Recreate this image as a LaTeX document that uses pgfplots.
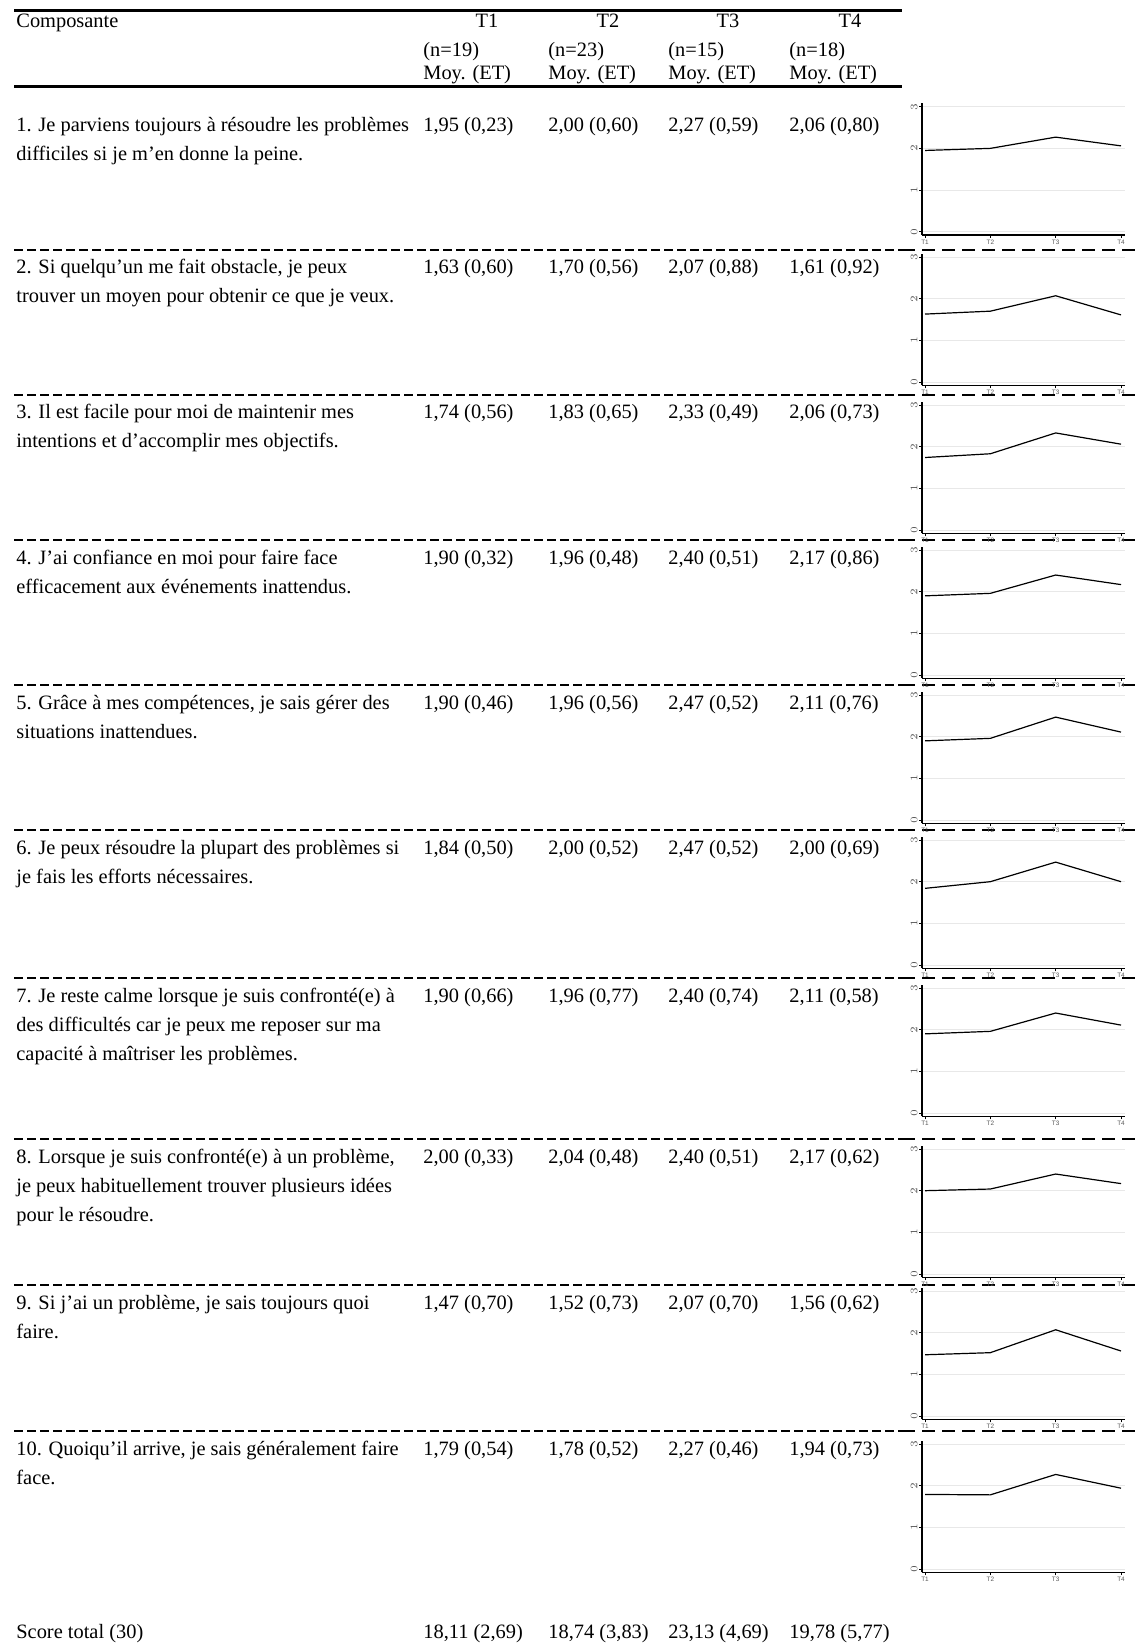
\documentclass[border=0pt]{standalone}
\usepackage{fontspec}
\setmainfont{Liberation Serif}
\newfontfamily\tickfont{Liberation Sans}
\usepackage{pgfplots}
\pgfplotsset{compat=1.18}
\usepackage{pgfplotstable}

% means per time point (T1..T4), one column per item
\pgfplotstableread{
t r1 r2 r3 r4 r5 r6 r7 r8 r9 r10
1 1.95 1.63 1.74 1.90 1.90 1.84 1.90 2.00 1.47 1.79
2 2.00 1.70 1.83 1.96 1.96 2.00 1.96 2.04 1.52 1.78
3 2.27 2.07 2.33 2.40 2.47 2.47 2.40 2.40 2.07 2.27
4 2.06 1.61 2.06 2.17 2.11 2.00 2.11 2.17 1.56 1.94
}\means

\pgfplotsset{
  spark/.style={
    scale only axis, width=101.5pt, height=65.8pt,
    anchor=south west,
    xmin=0.954, xmax=4.061, ymin=-0.08, ymax=3.08,
    axis x line*=bottom, axis y line*=left,
    axis line style={line width=0.65pt, -},
    xtick={1,2,3,4}, xticklabels={T1,T2,T3,T4},
    ytick={0,1,2,3},
    ymajorgrids, major grid style={gray!18, line width=0.4pt},
    major tick length=1.5pt, tick align=outside,
    tick style={line width=0.4pt, black},
    tick label style={font=\tickfont\fontsize{3.2}{3.4}\selectfont, text=black!65, inner sep=0.6pt},
    yticklabel style={rotate=90, anchor=south},
    xticklabel style={anchor=north},
  }
}

\newcommand\cell[3]{\node[anchor=base west, inner sep=0pt] at (#1,#2) {#3};}
\newcommand\nums[5]{\cell{423}{#1}{#2}\cell{548}{#1}{#3}\cell{668}{#1}{#4}\cell{789}{#1}{#5}}

\begin{document}
\begin{tikzpicture}
\useasboundingbox (0,0) rectangle (568.5pt,-826pt);

\begin{scope}[x=0.5pt, y=-0.5pt, font=\fontsize{10.2}{14.5}\selectfont]
  % header
  \draw[line width=1.5pt] (14,11) -- (902,11);
  \draw[line width=1.5pt] (14,87) -- (902,87);
  \cell{16}{28}{Composante}
  \foreach \x/\t in {487/T1,608/T2,728/T3,850/T4}
    \node[anchor=base, inner sep=0pt] at (\x,28) {\t};
  \nums{57}{(n=19)}{(n=23)}{(n=15)}{(n=18)}
  \nums{80}{Moy. (ET)}{Moy. (ET)}{Moy. (ET)}{Moy. (ET)}

  % row separators
  \foreach \y in {250,395,540,685,830,978,1139,1285,1431} {
    \draw[line width=0.6pt, dash pattern=on 4.5pt off 2pt] (14,\y) -- (902,\y);
    \draw[line width=0.7pt, dash pattern=on 6.5pt off 3.5pt] (902,\y) -- (1137,\y);
  }

  \cell{16}{132}{1. Je parviens toujours à résoudre les problèmes}
  \cell{16}{161}{difficiles si je m’en donne la peine.}
  \nums{132}{1,95 (0,23)}{2,00 (0,60)}{2,27 (0,59)}{2,06 (0,80)}

  \cell{16}{274}{2. Si quelqu’un me fait obstacle, je peux}
  \cell{16}{303}{trouver un moyen pour obtenir ce que je veux.}
  \nums{274}{1,63 (0,60)}{1,70 (0,56)}{2,07 (0,88)}{1,61 (0,92)}

  \cell{16}{419}{3. Il est facile pour moi de maintenir mes}
  \cell{16}{448}{intentions et d’accomplir mes objectifs.}
  \nums{419}{1,74 (0,56)}{1,83 (0,65)}{2,33 (0,49)}{2,06 (0,73)}

  \cell{16}{564}{4. J’ai confiance en moi pour faire face}
  \cell{16}{593}{efficacement aux événements inattendus.}
  \nums{564}{1,90 (0,32)}{1,96 (0,48)}{2,40 (0,51)}{2,17 (0,86)}

  \cell{16}{709}{5. Grâce à mes compétences, je sais gérer des}
  \cell{16}{738}{situations inattendues.}
  \nums{709}{1,90 (0,46)}{1,96 (0,56)}{2,47 (0,52)}{2,11 (0,76)}

  \cell{16}{854}{6. Je peux résoudre la plupart des problèmes si}
  \cell{16}{883}{je fais les efforts nécessaires.}
  \nums{854}{1,84 (0,50)}{2,00 (0,52)}{2,47 (0,52)}{2,00 (0,69)}

  \cell{16}{1002}{7. Je reste calme lorsque je suis confronté(e) à}
  \cell{16}{1031}{des difficultés car je peux me reposer sur ma}
  \cell{16}{1060}{capacité à maîtriser les problèmes.}
  \nums{1002}{1,90 (0,66)}{1,96 (0,77)}{2,40 (0,74)}{2,11 (0,58)}

  \cell{16}{1163}{8. Lorsque je suis confronté(e) à un problème,}
  \cell{16}{1192}{je peux habituellement trouver plusieurs idées}
  \cell{16}{1221}{pour le résoudre.}
  \nums{1163}{2,00 (0,33)}{2,04 (0,48)}{2,40 (0,51)}{2,17 (0,62)}

  \cell{16}{1309}{9. Si j’ai un problème, je sais toujours quoi}
  \cell{16}{1338}{faire.}
  \nums{1309}{1,47 (0,70)}{1,52 (0,73)}{2,07 (0,70)}{1,56 (0,62)}

  \cell{16}{1455}{10. Quoiqu’il arrive, je sais généralement faire}
  \cell{16}{1484}{face.}
  \nums{1455}{1,79 (0,54)}{1,78 (0,52)}{2,27 (0,46)}{1,94 (0,73)}

  \cell{16}{1638}{Score total (30)}
  \nums{1638}{18,11 (2,69)}{18,74 (3,83)}{23,13 (4,69)}{19,78 (5,77)}
\end{scope}

% sparklines: item number / y of the x axis line (px from top)
\foreach \r/\b in {1/235,2/385.3,3/533.3,4/678.3,5/823.3,6/968.3,7/1116.3,8/1277.3,9/1419.3,10/1572.3} {
  \begin{axis}[spark, at={(461pt,-\b*0.5pt)}]
    \addplot[black, line width=0.6pt, mark=none] table[x=t, y=r\r] {\means};
  \end{axis}
}
\end{tikzpicture}
\end{document}
